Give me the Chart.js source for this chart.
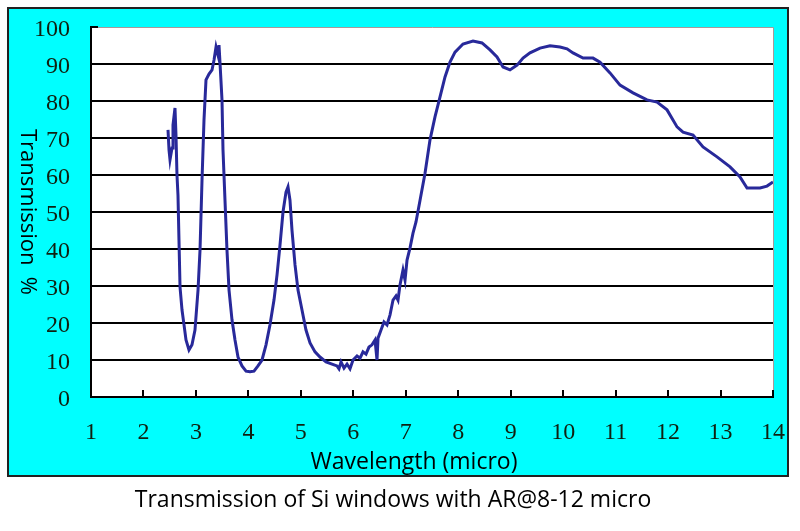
<!DOCTYPE html>
<html><head><meta charset="utf-8">
<script src="https://cdn.jsdelivr.net/npm/chart.js@4"></script>
<style>html,body{margin:0;padding:0;background:#fff;}#wrap{width:800px;height:531px;}</style>
</head><body><div id="wrap"><canvas id="c" width="800" height="531"></canvas></div>
<script>
const wavelength = [2.468,2.487,2.506,2.544,2.563,2.601,2.620,2.639,2.658,2.677,2.697,2.735,2.773,2.811,2.868,2.925,2.982,3.040,3.078,3.116,3.154,3.192,3.249,3.307,3.345,3.383,3.421,3.440,3.459,3.497,3.516,3.554,3.592,3.631,3.688,3.745,3.802,3.878,3.955,4.031,4.107,4.183,4.260,4.336,4.412,4.488,4.546,4.603,4.660,4.717,4.755,4.793,4.831,4.889,4.946,5.022,5.098,5.175,5.270,5.365,5.480,5.594,5.689,5.727,5.766,5.823,5.880,5.937,5.994,6.071,6.128,6.185,6.242,6.299,6.356,6.414,6.452,6.471,6.528,6.585,6.642,6.700,6.757,6.814,6.852,6.890,6.947,6.986,7.024,7.081,7.138,7.195,7.272,7.367,7.462,7.557,7.653,7.748,7.843,7.939,8.091,8.282,8.453,8.606,8.739,8.854,8.987,9.121,9.235,9.368,9.559,9.750,9.940,10.074,10.188,10.379,10.569,10.703,10.893,11.084,11.332,11.599,11.790,11.980,12.171,12.285,12.476,12.666,12.933,13.181,13.371,13.505,13.753,13.886,14.0];
const transmission = [72.2,66.8,64.1,67.3,73.5,78.1,70.8,60.0,54.6,42.4,29.7,23.5,19.5,15.4,12.7,14.1,18.1,28.9,39.7,58.6,74.9,85.7,87.3,88.4,91.1,94.6,92.4,95.1,90.3,80.3,66.8,53.2,39.7,28.9,20.8,15.4,10.8,8.4,7.0,6.8,7.0,8.4,10.0,14.1,19.5,26.2,33.0,41.1,50.0,55.4,56.8,53.2,45.1,35.7,28.9,23.5,18.1,14.6,12.2,10.8,9.5,8.9,8.4,7.6,9.5,7.8,8.9,7.6,10.0,11.1,10.5,12.2,11.6,13.5,14.1,15.4,10.0,15.9,18.1,20.3,19.5,22.2,26.2,27.3,26.2,30.3,34.3,31.6,37.0,40.3,44.3,47.3,53.2,60.5,69.5,75.7,81.1,86.5,90.5,93.2,95.4,96.2,95.7,93.8,91.9,89.2,88.4,89.7,91.6,93.0,94.3,94.9,94.6,94.1,93.0,91.6,91.6,90.5,87.6,84.3,82.2,80.3,79.7,77.6,73.0,71.6,70.8,67.6,64.9,62.2,59.5,56.5,56.5,57.0,58.1];
const chartTitle = 'Transmission of Si windows with AR@8-12 micro';
const xAxisTitle = 'Wavelength (micro)';
const yAxisTitle = 'Transmission  %';
const xRange = [1, 14];
const yRange = [0, 100];
const xStep = 1;
const yStep = 10;

const points = wavelength.map((w, i) => ({x: w, y: transmission[i]}));

const frame = {
  id: 'frame',
  beforeDraw(chart) {
    const {ctx, chartArea: a} = chart;
    ctx.save();
    ctx.fillStyle = '#ffffff';
    ctx.fillRect(0, 0, chart.width, chart.height);
    ctx.fillStyle = '#00ffff';
    ctx.fillRect(8, 8, 780, 468);
    ctx.lineWidth = 2;
    ctx.strokeStyle = '#222222';
    ctx.strokeRect(8, 8, 780, 468);
    ctx.fillStyle = '#ffffff';
    ctx.fillRect(a.left, a.top, a.right - a.left, a.bottom - a.top);
    ctx.restore();
  },
  afterDraw(chart) {
    const {ctx, chartArea: a, scales: {x, y}} = chart;
    ctx.save();
    ctx.strokeStyle = '#a89a9a';
    ctx.lineWidth = 1;
    ctx.beginPath();
    ctx.moveTo(a.left, a.top + 0.5);
    ctx.lineTo(a.right + 0.5, a.top + 0.5);
    ctx.lineTo(a.right + 0.5, a.bottom);
    ctx.stroke();
    ctx.strokeStyle = '#000000';
    ctx.lineWidth = 2;
    for (let v = xRange[0]; v <= xRange[1]; v += xStep) {
      const px = Math.round(x.getPixelForValue(v));
      ctx.beginPath(); ctx.moveTo(px, a.bottom); ctx.lineTo(px, a.bottom - 7); ctx.stroke();
    }
    for (let v = yRange[0]; v <= yRange[1]; v += yStep) {
      const py = y.getPixelForValue(v);
      ctx.beginPath(); ctx.moveTo(a.left, py); ctx.lineTo(a.left + 7, py); ctx.stroke();
    }
    ctx.fillStyle = '#000000';
    ctx.font = '23px "Open Sans"';
    ctx.textAlign = 'center';
    ctx.textBaseline = 'middle';
    ctx.fillText(xAxisTitle, 414, 462);
    ctx.font = '22px "Open Sans"';
    ctx.translate(27, 212);
    ctx.rotate(Math.PI / 2);
    ctx.fillText(yAxisTitle, 0, 0);
    ctx.restore();
  }
};

new Chart(document.getElementById('c'), {
  type: 'scatter',
  data: {
    datasets: [{
      data: points,
      showLine: true,
      borderColor: '#28299a',
      backgroundColor: '#28299a',
      borderWidth: 3,
      pointRadius: 0,
      tension: 0
    }]
  },
  options: {
    responsive: false,
    animation: false,
    devicePixelRatio: 1,
    layout: {padding: {left: 13, right: 27, top: 27, bottom: 0}},
    plugins: {
      legend: {display: false},
      tooltip: {enabled: false},
      title: {
        display: true, position: 'bottom', text: chartTitle, color: '#000000',
        font: {family: 'Open Sans', size: 23, weight: 'normal'},
        padding: {top: 0, bottom: 17}
      }
    },
    scales: {
      x: {
        type: 'linear', min: xRange[0], max: xRange[1],
        ticks: {stepSize: xStep, color: '#102010', font: {family: 'Liberation Serif', size: 24}, padding: 21, maxRotation: 0},
        grid: {display: false, drawTicks: false},
        border: {display: true, color: '#000000', width: 2},
        afterFit(s) { s.height = 89.4; s.paddingLeft = 0; s.paddingRight = 0; }
      },
      y: {
        min: yRange[0], max: yRange[1],
        ticks: {stepSize: yStep, color: '#102010', font: {family: 'Liberation Serif', size: 24}, padding: 21, labelOffset: 3},
        grid: {color: c => (c.tick && c.tick.value === yRange[1]) ? 'rgba(0,0,0,0)' : '#000000', lineWidth: 2, drawTicks: false},
        border: {display: true, color: '#000000', width: 2},
        afterFit(s) { s.width = 78; s.paddingTop = 0; s.paddingBottom = 0; }
      }
    }
  },
  plugins: [frame]
});
</script>
</body></html>
